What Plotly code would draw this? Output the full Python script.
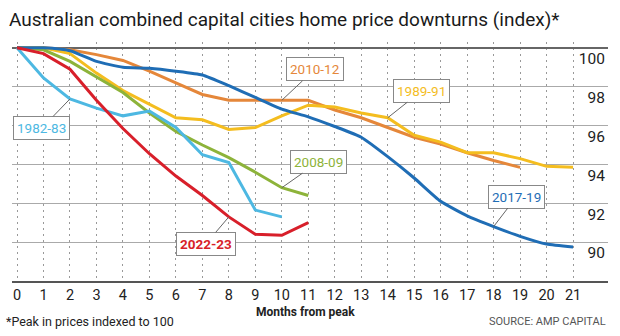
import plotly.graph_objects as go

months = list(range(22))
month_labels = [str(m) for m in months]
y_ticks = [90, 92, 94, 96, 98, 100]

s1982 = [100, 98.45, 97.37, 96.9, 96.5, 96.75, 95.9, 94.5, 94.1, 91.65, 91.3]
s1989 = [100, 100, 99.7, 98.7, 97.8, 97.1, 96.4, 96.3, 95.8, 95.9, 96.5, 97.05,
         96.95, 96.65, 96.4, 95.5, 95.15, 94.6, 94.6, 94.3, 93.9, 93.85]
s2008 = [100, 99.9, 99.3, 98.5, 97.7, 96.65, 95.7, 95.0, 94.35, 93.6, 92.8, 92.4]
s2010 = [100, 100, 99.9, 99.65, 99.35, 98.8, 98.2, 97.6, 97.3, 97.3, 97.3, 97.3,
         96.8, 96.4, 95.9, 95.4, 95.05, 94.6, 94.2, 93.85]
s2017 = [100, 100, 99.85, 99.3, 99.0, 98.95, 98.8, 98.6, 98.05, 97.45, 96.85, 96.45,
         95.95, 95.4, 94.4, 93.3, 92.1, 91.35, 90.8, 90.3, 89.9, 89.75]
s2022 = [100, 99.7, 98.9, 97.3, 95.85, 94.55, 93.4, 92.4, 91.3, 90.4, 90.35, 91.0]

FONT = "Roboto"
series = [
    # name, data, colour, label index, ax, ay, bold, shape
    ("2010-12", s2010, "#E5873A", 10, 33, -31, False, "linear"),
    ("1989-91", s1989, "#F4BD1F", 14, 34, -27, False, "linear"),
    ("2008-09", s2008, "#8DB33A", 10, 37, -26, False, "linear"),
    ("1982-83", s1982, "#4DB8E2", 2, -28, 29, False, "linear"),
    ("2017-19", s2017, "#1F6DB5", 18, 23, -30, False, "spline"),
    ("2022-23", s2022, "#D81F2A", 8, -23, 27, True, "linear"),
]

fig = go.Figure()
annotations = []
for name, data, col, li, ax, ay, bold, shape in series:
    fig.add_trace(go.Scatter(
        x=months[:len(data)], y=data, mode="lines", name=name,
        line=dict(color=col, width=3, shape=shape, smoothing=0.5),
        showlegend=False, hoverinfo="skip"))
    txt = f"<b>{name}</b>" if bold else name
    annotations.append(dict(
        x=months[li], y=data[li], xref="x", yref="y", text=txt,
        showarrow=True, arrowhead=0, arrowwidth=1, arrowcolor="#666",
        ax=ax, ay=ay, bgcolor="white", bordercolor="#888", borderwidth=1,
        borderpad=3, font=dict(family=FONT, size=13.5, color=col)))

# dummy trace for the overlay axis carrying the top (100) rule
fig.add_trace(go.Scatter(x=[], y=[], yaxis="y2", showlegend=False))

annotations += [
    dict(text="Australian combined capital cities home price downturns (index)*",
         x=0, y=1, xref="paper", yref="paper", xanchor="left", yanchor="top",
         xshift=-5, yshift=36, showarrow=False,
         font=dict(family=FONT, size=19, color="#1a1a1a")),
    dict(text="<b>Months from peak</b>", x=0.5, y=0, xref="paper", yref="paper",
         xanchor="center", yanchor="middle", xshift=-5, yshift=-31, showarrow=False,
         font=dict(family=FONT, size=12, color="#222")),
    dict(text="*Peak in prices indexed to 100", x=0, y=0, xref="paper", yref="paper",
         xanchor="left", yanchor="middle", xshift=-8, yshift=-40, showarrow=False,
         font=dict(family=FONT, size=12.5, color="#222")),
    dict(text="SOURCE: AMP CAPITAL", x=1, y=0, xref="paper", yref="paper",
         xanchor="right", yanchor="middle", xshift=0, yshift=-40, showarrow=False,
         font=dict(family=FONT, size=11, color="#555")),
]

yr = [88, 100.3]
fig.update_layout(
    width=620, height=336,
    margin=dict(l=12, r=12, t=42, b=55),
    paper_bgcolor="white", plot_bgcolor="white",
    font=dict(family=FONT, color="#222"),
    xaxis=dict(range=[-0.19, 22.32], tickvals=months, ticktext=month_labels,
               showgrid=True, gridcolor="#999", griddash="2px,4px", gridwidth=1,
               zeroline=False, showline=True, linecolor="#555", linewidth=2,
               ticks="", tickfont=dict(size=14.5, color="#222")),
    yaxis=dict(range=yr, tickvals=y_ticks, side="right",
               ticklabelposition="inside bottom", showgrid=True,
               gridcolor="#aaa", gridwidth=1, zeroline=False, showline=False,
               ticks="", tickfont=dict(size=15.5, color="#222")),
    yaxis2=dict(range=yr, overlaying="y", tickvals=[100], showgrid=True,
                gridcolor="#666", gridwidth=2, showticklabels=False,
                zeroline=False, showline=False, ticks=""),
    annotations=annotations,
)

fig.write_html("out.html")
